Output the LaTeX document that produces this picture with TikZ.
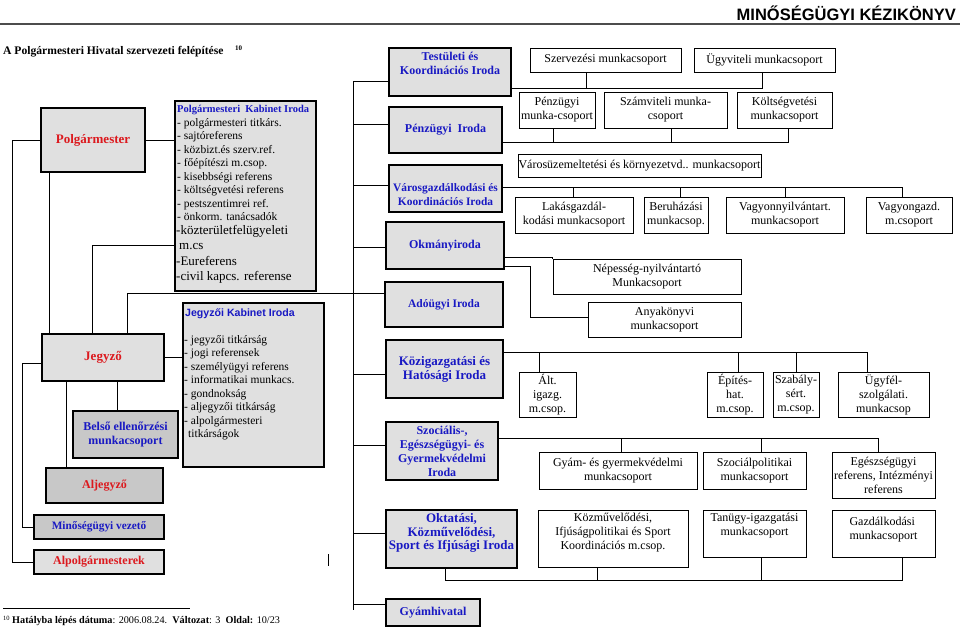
\documentclass[tikz,border=0pt]{standalone}
\usepackage{fontspec}
\setmainfont{Liberation Serif}
\newfontfamily\hdfont{Liberation Sans}
\definecolor{lgray}{RGB}{224,224,224}
\definecolor{dgray}{RGB}{200,200,200}
\definecolor{ublue}{RGB}{25,25,195}
\definecolor{ured}{RGB}{220,25,30}

\begin{document}
\begin{tikzpicture}[x=1pt,y=-1pt,
  sz/.style 2 args={minimum width=#1pt,minimum height=#2pt},
  gbox/.style={draw,line width=1.3pt,fill=lgray,inner sep=0.5pt,align=center,text=ublue,font=\fontsize{12}{14}\selectfont\bfseries},
  dbox/.style={gbox,fill=dgray},
  rtxt/.style={text=ured},
  wbox/.style={draw,line width=0.9pt,fill=white,inner sep=0.5pt,align=center,font=\fontsize{12}{14}\selectfont},
  tdp/.style={text depth=#1pt},
  tht/.style={text height=#1pt},
  cn/.style={line width=1pt}]
\useasboundingbox (0,0) rectangle (960,630);

% header
\node[anchor=east,inner sep=0pt,font=\hdfont\bfseries\fontsize{16.5}{18}\selectfont] (hdr) at (956,13) {MINŐSÉGÜGYI KÉZIKÖNYV};
\draw[line width=1.5pt,black!70] (0,24) -- (960,24);
\node[anchor=base west,inner sep=0pt,font=\bfseries\fontsize{11.6}{13}\selectfont] (ttl) at (3,54) {A Polgármesteri Hivatal szervezeti felépítése\quad\raisebox{4pt}{\fontsize{7}{8}\selectfont 10}};

% left column
\node[gbox,rtxt,sz={104}{64},font=\fontsize{13}{15}\selectfont\bfseries] (polg) at (93,140) {Polgármester};
\node[gbox,sz={141}{190}] (pkab) at (245.5,196) {};
\node[anchor=north west,inner sep=0pt,align=left,font=\fontsize{11.5}{13.5}\selectfont] (pkabt) at (177,105) {{\color{ublue}\bfseries\fontsize{10.5}{12}\selectfont Polgármesteri\ \ Kabinet Iroda}\\- polgármesteri titkárs.\\- sajtóreferens\\- közbizt.és szerv.ref.\\- főépítészi m.csop.\\- kisebbségi referens\\- költségvetési referens\\- pestszentimrei ref.\\- önkorm. tanácsadók};
\node[anchor=north west,inner sep=0pt,align=left,font=\fontsize{13}{15.5}\selectfont] (pkabu) at (176,225) {-közterületfelügyeleti\\\hspace*{3pt}m.cs\\-Eureferens\\-civil kapcs. referense};
\node[gbox,rtxt,sz={122}{47},font=\fontsize{13}{15}\selectfont\bfseries] (jegy) at (103,357.5) {Jegyző};
\node[gbox,sz={141}{164}] (jkab) at (253.5,385) {};
\node[anchor=base west,inner sep=0pt,text=ublue,font=\hdfont\bfseries\fontsize{10.6}{12}\selectfont] (jkabh) at (185,316) {Jegyzői Kabinet Iroda};
\node[anchor=north west,inner sep=0pt,align=left,font=\fontsize{11.5}{13.5}\selectfont] (jkabt) at (184,335) {- jegyzői titkárság\\- jogi referensek\\- személyügyi referens\\- informatikai munkacs.\\- gondnokság\\- aljegyzői titkárság\\- alpolgármesteri\\\hspace*{4pt}titkárságok};
\node[dbox,sz={105}{47}] (belso) at (125.5,434.5) {Belső ellenőrzési\\munkacsoport};
\node[dbox,rtxt,sz={117}{35}] (aljegy) at (104.5,485.5) {Aljegyző};
\node[dbox,sz={130}{24},font=\fontsize{11.3}{13}\selectfont\bfseries] (minv) at (99,527) {Minőségügyi vezető};
\node[gbox,rtxt,sz={130}{24}] (alpolg) at (99,562) {Alpolgármesterek};

% irodak
\node[gbox,sz={122}{48},tdp=18] (test) at (450,72) {Testületi és\\Koordinációs Iroda};
\node[gbox,sz={113}{46}] (penz) at (445.5,130) {Pénzügyi\ \ Iroda};
\node[gbox,sz={113}{47},tht=35,font=\fontsize{11.4}{14}\selectfont\bfseries] (varos) at (445.5,188.5) {Városgazdálkodási és\\Koordinációs Iroda};
\node[gbox,sz={118}{47}] (okm) at (445,245.5) {Okmányiroda};
\node[gbox,sz={118}{45},font=\fontsize{11.5}{14}\selectfont\bfseries] (ado) at (444,304.5) {Adóügyi Iroda};
\node[gbox,sz={117}{58},font=\fontsize{13}{14}\selectfont\bfseries] (kozig) at (444.5,369) {Közigazgatási és\\Hatósági Iroda};
\node[gbox,sz={112}{58}] (szoc) at (442,451) {Szociális-,\\Egészségügyi- és\\Gyermekvédelmi\\Iroda};
\node[gbox,sz={131}{58},tdp=15,font=\fontsize{13}{13.5}\selectfont\bfseries] (okt) at (451.5,539) {Oktatási,\\Közművelődési,\\Sport és Ifjúsági Iroda};
\node[gbox,sz={94}{27}] (gyam) at (433,612.5) {Gyámhivatal};

% munkacsoportok
\node[wbox,sz={151}{24}] (szerv) at (605.5,60) {Szervezési munkacsoport};
\node[wbox,sz={141}{24}] (ugyv) at (764.5,60) {Ügyviteli munkacsoport};
\node[wbox,sz={76}{36}] (pmcs) at (557,110) {Pénzügyi\\munka-csoport};
\node[wbox,sz={123}{36}] (szamv) at (665.5,110) {Számviteli munka-\\csoport};
\node[wbox,sz={95}{36}] (koltsv) at (784.5,110) {Költségvetési\\munkacsoport};
\node[wbox,sz={243}{23}] (varosuz) at (639.5,165.5) {Városüzemeltetési és környezetvd.. munkacsoport};
\node[wbox,sz={118}{36}] (lakas) at (574,215) {Lakásgazdál-\\kodási munkacsoport};
\node[wbox,sz={64}{36}] (beruh) at (676,215) {Beruházási\\munkacsop.};
\node[wbox,sz={118}{36}] (vagyny) at (785,215) {Vagyonnyilvántart.\\munkacsoport};
\node[wbox,sz={86}{36}] (vagyg) at (909,215) {Vagyongazd.\\m.csoport};
\node[wbox,sz={188}{35}] (nep) at (647,276.5) {Népesség-nyilvántartó\\Munkacsoport};
\node[wbox,sz={153}{35}] (anya) at (664.5,319.5) {Anyakönyvi\\munkacsoport};
\node[wbox,sz={57}{45}] (alt) at (547.5,394.5) {Ált.\\igazg.\\m.csop.};
\node[wbox,sz={56}{45}] (epit) at (735,394.5) {Építés-\\hat.\\m.csop.};
\node[wbox,sz={46}{45}] (szab) at (796,394.5) {Szabály-\\sért.\\m.csop.};
\node[wbox,sz={91}{45}] (ugyf) at (883.5,394.5) {Ügyfél-\\szolgálati.\\munkacsop};
\node[wbox,sz={158}{37}] (gyamgy) at (618,470.5) {Gyám- és gyermekvédelmi\\munkacsoport};
\node[wbox,sz={103}{37}] (szocp) at (754.5,470.5) {Szociálpolitikai\\munkacsoport};
\node[wbox,sz={103}{46}] (egesz) at (883.5,475) {Egészségügyi\\referens, Intézményi\\referens};
\node[wbox,sz={150}{57},tdp=14] (kozmuv) at (613,538.5) {Közművelődési,\\Ifjúságpolitikai és Sport\\Koordinációs m.csop.};
\node[wbox,sz={103}{47},tdp=18] (tanugy) at (754.5,533.5) {Tanügy-igazgatási\\munkacsoport};
\node[wbox,sz={103}{47},tdp=11,align=left] (gazd) at (883.5,533.5) {Gazdálkodási\\munkacsoport};

% left connectors
\coordinate (lb) at (12,140);
\draw[cn] (polg.west) -- (lb) |- (alpolg.west);
\draw[cn] (polg.east) -- (pkab.west |- polg.east);
\draw[cn] ([xshift=8pt]jegy.north west) -- ([xshift=8pt]jegy.north west |- polg.south);
\draw[cn] ([yshift=-49pt]pkab.west) -| ([xshift=51pt]jegy.north west);
\draw[cn] ([xshift=86pt]jegy.north west) |- ([yshift=11.5pt]ado.west);
\draw[cn] (jegy.east) -- (jkab.west |- jegy.east);
\draw[cn] ([xshift=-8.5pt]belso.north) -- ([xshift=-8.5pt]belso.north |- jegy.south);
\draw[cn] ([xshift=-38.5pt]aljegy.north) -- ([xshift=-38.5pt]aljegy.north |- jegy.south);
\draw[cn] ([yshift=-5.5pt]jegy.west) -- ++(-19,0) |- (minv.west);

% bus of the irodak
\coordinate (bt) at (353,81);
\coordinate (bb) at (353,610);
\draw[cn] (bt) -- (bb);
\foreach \b/\s in {test/-9,penz/6,varos/3.5,okm/-1.5,kozig/-5,szoc/6,okt/6,gyam/8.5}
  \draw[cn] ([yshift=\s pt]\b.west) -| (bt);

% right connectors
\draw[cn] ([yshift=-16pt]test.east) -| ([xshift=-2.5pt]ugyv.south);
\draw[cn] ([xshift=-19.5pt]szerv.south) -- ++(0,16);
\draw[cn] ([yshift=-12pt]penz.east) -| ([xshift=3.5pt]koltsv.south);
\foreach \b/\s in {pmcs/-4,szamv/5.5}
  \draw[cn] ([xshift=\s pt]\b.south) -- ++(0,14);
\draw[cn] ([yshift=1.5pt]varos.east) -| ([xshift=-7pt]vagyg.north);
\foreach \b/\s in {lakas/-1,beruh/4,vagyny/0}
  \draw[cn] ([xshift=\s pt]\b.north) -- ++(0,-10);
\draw[cn] ([yshift=-11.5pt]okm.east) -| (nep.north west);
\draw[cn] ([yshift=-20.5pt]okm.east) -- ++(26,0) |- ([yshift=2.5pt]anya.west);
\draw[cn] ([yshift=17pt]kozig.east) -| ([xshift=-16.5pt]ugyf.north);
\foreach \b/\s in {alt/-8.5,epit/3,szab/0}
  \draw[cn] ([xshift=\s pt]\b.north) -- ++(0,-20);
\draw[cn] ([yshift=13pt]szoc.east) -| ([xshift=-5.5pt]egesz.north);
\foreach \b/\s in {gyamgy/3,szocp/6.5}
  \draw[cn] ([xshift=\s pt]\b.north) -- ++(0,-14);
\draw[cn] ([xshift=-6.5pt]okt.south) -- ++(0,12) -| ([xshift=18.5pt]gazd.south);
\draw[cn] ([xshift=-16pt]kozmuv.south) -- ++(0,13);
\draw[cn] ([xshift=6.5pt]tanugy.south) -- ++(0,23);
\draw[cn] (328,554) -- (328,566);

% footnote
\draw[line width=0.6pt] (3,608) -- (190,608);
\node[anchor=base west,inner sep=0pt,font=\fontsize{10.2}{12}\selectfont] (fn) at (3,623) {\raisebox{3pt}{\fontsize{6.5}{7}\selectfont 10} \textbf{Hatályba lépés dátuma}: 2006.08.24.\ \ \textbf{Változat}: 3\ \ \textbf{Oldal:} 10/23};
\end{tikzpicture}
\end{document}
